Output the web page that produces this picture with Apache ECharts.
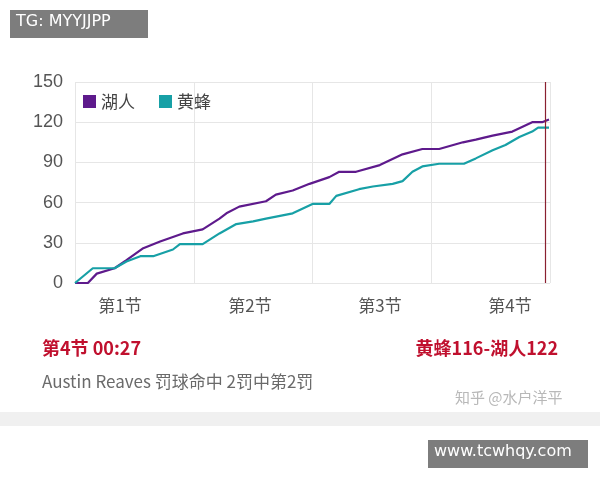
<!DOCTYPE html><html><head><meta charset="utf-8"><script src="https://cdn.jsdelivr.net/npm/echarts@6/dist/echarts.min.js"></script></head><body style="margin:0"><div id="c" style="width:600px;height:480px"></div><script>
const lakers = [[0,0],[1.3,0],[2.2,7],[4,11],[5.2,17],[6.9,26],[8.6,31],[10.9,37],[12.9,40],[14.6,48],[15.3,52],[16.6,57],[19.3,61],[20.3,66],[22,69],[23.7,74],[25.7,79],[26.7,83],[28.4,83],[30.8,88],[33.1,96],[35.1,100],[36.8,100],[39.2,105],[40.5,107],[42.2,110],[44.2,113],[46.2,120],[47.2,120],[47.9,122]];
const hornets = [[0,0],[1.8,11],[3.2,11],[4,11],[5.2,16],[6.6,20],[7.9,20],[9.9,25],[10.6,29],[12.9,29],[14.6,37],[16.3,44],[18,46],[19.3,48],[22,52],[24,59],[25.7,59],[26.4,65],[28.7,70],[30.1,72],[32.1,74],[33.1,76],[34.1,83],[35.1,87],[36.8,89],[39.3,89],[40.5,93],[42.2,99],[43.5,103],[44.9,109],[46.2,113],[46.8,116],[47.9,116]];
const quarterLabels = ['第1节','第2节','第3节','第4节'];
const yTicks = [0,30,60,90,120,150];
const nowMinute = 47.55;
const ch = echarts.init(document.getElementById('c'));
ch.setOption({
 backgroundColor:'#fff', animation:false,
 graphic:[
  {type:'rect',shape:{x:10,y:10,width:138,height:28},style:{fill:'#7d7d7d'}},
  {type:'text',left:16,top:14,style:{text:'TG: MYYJJPP',fill:'#fff',font:'16px "DejaVu Sans"'}},
  {type:'rect',shape:{x:0,y:412,width:600,height:14},style:{fill:'#f0f0f0'}},
  {type:'rect',shape:{x:428,y:440,width:160,height:28},style:{fill:'#7d7d7d'}},
  {type:'text',left:434,top:444,style:{text:'www.tcwhqy.com',fill:'#fff',font:'16px "DejaVu Sans"'}},
  {type:'text',left:42,top:339,style:{text:'第4节 00:27',fill:'#c0102e',font:'bold 18px "Noto Sans CJK SC"'}},
  {type:'text',right:42,top:339,style:{text:'黄蜂116-湖人122',fill:'#c0102e',font:'bold 18px "Noto Sans CJK SC"',align:'right'}},
  {type:'text',left:42,top:373,style:{text:'Austin Reaves 罚球命中 2罚中第2罚',fill:'#6a6a6a',font:'17px "Noto Sans CJK SC"'}},
  {type:'text',left:455,top:390,style:{text:'知乎 @水户洋平',fill:'#b8b8b8',font:'15px "Noto Sans CJK SC"'}}
 ],
 legend:{left:78,top:88,itemWidth:13,itemHeight:13,icon:'rect',itemGap:24,textStyle:{fontSize:17,color:'#444',fontFamily:'Noto Sans CJK SC'},data:['湖人','黄蜂']},
 grid:{left:75,right:50,top:82,bottom:197},
 xAxis:[
  {type:'value',min:0,max:48,interval:12,axisLabel:{show:false},axisTick:{show:false},axisLine:{show:false},splitLine:{lineStyle:{color:'#e6e6e6'}}},
  {type:'value',position:'bottom',min:0.654,max:4.308,axisLine:{show:false},axisTick:{show:false},splitLine:{show:false},
   axisLabel:{customValues:[1,2,3,4],formatter:v=>quarterLabels[Math.round(v)-1],fontSize:17,color:'#555',margin:14,fontFamily:'Noto Sans CJK SC'}}
 ],
 yAxis:{type:'value',min:0,max:150,interval:30,axisLabel:{fontSize:18,color:'#555',margin:12},axisLine:{show:false},axisTick:{show:false},splitLine:{lineStyle:{color:'#e6e6e6'}}},
 series:[
  {name:'湖人',type:'line',data:lakers,symbol:'none',lineStyle:{width:2.2,color:'#5e1a8c'},itemStyle:{color:'#5e1a8c'},
   markLine:{silent:true,symbol:'none',label:{show:false},lineStyle:{color:'#8a2030',type:'solid',width:1.2},data:[{xAxis:nowMinute}]}},
  {name:'黄蜂',type:'line',data:hornets,symbol:'none',lineStyle:{width:2.2,color:'#17a0a6'},itemStyle:{color:'#17a0a6'}}
 ]
});
</script></body></html>
